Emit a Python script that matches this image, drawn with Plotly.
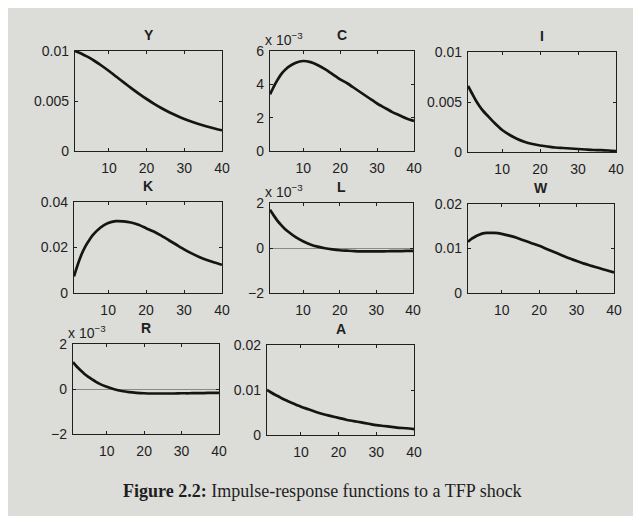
import plotly.graph_objects as go

W_PX, H_PX = 641, 516
DX, DY = -7, -7  # compensation for the page offset seen in the rendering

periods = [1, 2, 3, 4, 5, 6, 8, 10, 12, 14, 16, 18, 20, 22, 24, 26, 28, 30, 32, 34, 36, 38, 40]

y_output = [0.0100, 0.00985, 0.00968, 0.00949, 0.00928, 0.00905, 0.00855, 0.00800, 0.00742, 0.00684, 0.00627,
            0.00572, 0.00520, 0.00472, 0.00428, 0.00388, 0.00352, 0.00320, 0.00292, 0.00267, 0.00245, 0.00225,
            0.00207]
c_cons = [3.4, 3.85, 4.25, 4.6, 4.85, 5.05, 5.3, 5.4, 5.33, 5.15, 4.9, 4.6, 4.3, 4.05, 3.75, 3.45, 3.15,
          2.85, 2.6, 2.35, 2.15, 1.95, 1.8]
i_inv = [0.0066, 0.0059, 0.0052, 0.0046, 0.0041, 0.0037, 0.0029, 0.0022, 0.0017, 0.0013, 0.0010, 0.0008,
         0.00065, 0.00055, 0.00045, 0.0004, 0.00035, 0.0003, 0.00025, 0.0002, 0.00018, 0.00015, 0.0001]
k_cap = [0.0073, 0.0125, 0.017, 0.0205, 0.0232, 0.0255, 0.0288, 0.0308, 0.0316, 0.0315, 0.031, 0.030,
         0.0285, 0.027, 0.0252, 0.0232, 0.0212, 0.0192, 0.0174, 0.0158, 0.0145, 0.0134, 0.0124]
l_lab = [1.7, 1.45, 1.22, 1.03, 0.86, 0.72, 0.48, 0.3, 0.16, 0.06, -0.01, -0.06, -0.1, -0.12, -0.14, -0.15,
         -0.15, -0.15, -0.15, -0.14, -0.14, -0.13, -0.13]
w_wage = [0.0115, 0.0122, 0.0127, 0.0131, 0.0134, 0.0135, 0.0135, 0.0133, 0.0129, 0.0124, 0.0118, 0.0112,
          0.0106, 0.0099, 0.0092, 0.0085, 0.0078, 0.0072, 0.0066, 0.0061, 0.0056, 0.0051, 0.0046]
r_rate = [1.2, 1.0, 0.83, 0.68, 0.55, 0.44, 0.24, 0.1, -0.01, -0.09, -0.14, -0.17, -0.19, -0.2, -0.2, -0.2,
          -0.2, -0.19, -0.19, -0.18, -0.18, -0.17, -0.17]
a_tfp = [0.0100, 0.0095, 0.0090, 0.0086, 0.0081, 0.0077, 0.0070, 0.0063, 0.0057, 0.0051, 0.0046, 0.0042,
         0.0038, 0.0034, 0.0031, 0.0028, 0.0025, 0.0022, 0.0020, 0.0018, 0.0016, 0.0015, 0.0013]

x_ticks = [10, 20, 30, 40]

# name, data, y range, y tick values, y tick labels, scaled label, zero line, box (left, top, right, bottom) px
panels = [
    ("Y", y_output, [0, 0.01], [0, 0.005, 0.01], ["0", "0.005", "0.01"], False, False, (74, 50, 221, 150)),
    ("C", c_cons, [0, 6], [0, 2, 4, 6], ["0", "2", "4", "6"], True, False, (269, 50, 413, 150)),
    ("I", i_inv, [0, 0.01], [0, 0.005, 0.01], ["0", "0.005", "0.01"], False, False, (467, 51, 615, 151)),
    ("K", k_cap, [0, 0.04], [0, 0.02, 0.04], ["0", "0.02", "0.04"], False, False, (73, 201, 221, 292)),
    ("L", l_lab, [-2, 2], [-2, 0, 2], ["\u22122", "0", "2"], True, True, (269, 202, 412, 292)),
    ("W", w_wage, [0, 0.02], [0, 0.01, 0.02], ["0", "0.01", "0.02"], False, False, (467, 203, 613, 292)),
    ("R", r_rate, [-2, 2], [-2, 0, 2], ["\u22122", "0", "2"], True, True, (72, 343, 218, 433)),
    ("A", a_tfp, [0, 0.02], [0, 0.01, 0.02], ["0", "0.01", "0.02"], False, False, (266, 344, 413, 434)),
]

PAGE = "#dcdcd9"
INK = "#1f1f1f"
FONT = "Liberation Sans"


def fx(px):
    return (px + DX) / W_PX


def fy(py):
    return 1 - (py + DY) / H_PX


fig = go.Figure()
layout = dict(
    width=W_PX, height=H_PX,
    margin=dict(l=0, r=0, t=0, b=0, pad=0, autoexpand=False),
    paper_bgcolor=PAGE,
    plot_bgcolor="rgba(0,0,0,0)",
    showlegend=False,
    font=dict(family=FONT, size=14, color=INK),
)
annotations = []

for idx, (name, vals, yr, yt, ytl, scaled, zl, box) in enumerate(panels):
    n = idx + 1
    xa = "xaxis" if n == 1 else f"xaxis{n}"
    ya = "yaxis" if n == 1 else f"yaxis{n}"
    xr = "x" if n == 1 else f"x{n}"
    yref = "y" if n == 1 else f"y{n}"
    left, top, right, bottom = box
    layout[xa] = dict(
        domain=[fx(left), fx(right)], anchor=yref, range=[1, 40], automargin=False,
        tickvals=x_ticks, ticktext=[str(v) for v in x_ticks],
        ticks="inside", ticklen=3, tickcolor=INK, showgrid=False, zeroline=False,
        showline=True, mirror="allticks", linecolor=INK, linewidth=1.3,
        ticklabelstandoff=4,
        tickfont=dict(family=FONT, size=14, color=INK),
    )
    layout[ya] = dict(
        domain=[fy(bottom), fy(top)], anchor=xr, range=yr, automargin=False,
        tickvals=yt, ticktext=ytl,
        ticks="inside", ticklen=3, tickcolor=INK, showgrid=False,
        zeroline=zl, zerolinecolor="#8a8a8a", zerolinewidth=1,
        showline=True, mirror="allticks", linecolor=INK, linewidth=1.3,
        ticklabelstandoff=2,
        tickfont=dict(family=FONT, size=14, color=INK),
    )
    fig.add_trace(go.Scatter(x=periods, y=vals, mode="lines", xaxis=xr, yaxis=yref,
                             line=dict(color="#141414", width=2.7, shape="spline", smoothing=0.7),
                             hoverinfo="skip"))
    cx = (left + right) / 2
    annotations.append(dict(text=f"<b>{name}</b>", x=fx(cx), y=fy(top - 16),
                            xref="paper", yref="paper", showarrow=False,
                            font=dict(family=FONT, size=14, color=INK), xanchor="center", yanchor="middle"))
    if scaled:
        annotations.append(dict(text="x 10<sup>\u22123</sup>", x=fx(left - 7), y=fy(top - 1),
                                xref="paper", yref="paper", showarrow=False,
                                font=dict(family=FONT, size=14, color=INK), xanchor="left", yanchor="bottom"))

annotations.append(dict(text="<b>Figure 2.2:</b> Impulse-response functions to a TFP shock",
                        x=fx(321), y=fy(490), xref="paper", yref="paper", showarrow=False,
                        font=dict(family="Liberation Serif", size=18, color="#1e1e1e"),
                        xanchor="center", yanchor="middle"))

layout["annotations"] = annotations
fig.update_layout(**layout)
fig.write_html("out.html")
